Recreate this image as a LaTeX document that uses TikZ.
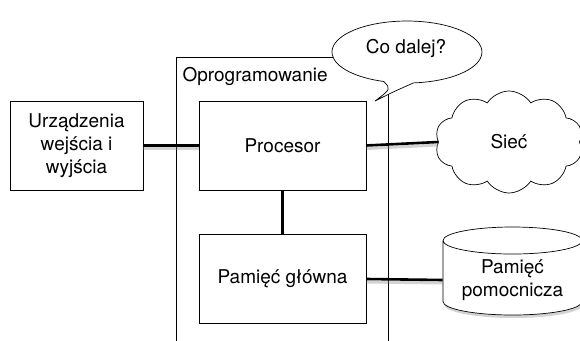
\documentclass[tikz,border=0pt]{standalone}
\usepackage{fontspec}
\setmainfont{TeX Gyre Heros}
\usepackage{tikz}
\usetikzlibrary{shapes.symbols, shapes.geometric, shadows}

\tikzset{
    unit/.style={draw, line width=0.7pt, fill=white, minimum width=167pt, minimum height=89pt, align=center},
    link/.style={line width=2.6pt},
    linkshadow/.style={line width=3pt, gray, opacity=0.35},
}

\begin{document}
\begin{tikzpicture}[x=1pt, y=-1pt, font=\fontsize{19}{23}\selectfont]
    \useasboundingbox (0,0) rectangle (580,340);
    \clip (0,0) rectangle (580,340);

    % Software frame (open at the bottom)
    \draw[line width=0.7pt] (176.5,345) -- (176.5,57) -- (388,57) -- (388,345);
    \node[anchor=west] (soft) at (179,76) {Oprogramowanie};

    % Units
    \node[unit, minimum width=133pt] (io) at (76.5,145.5) {Urządzenia\\wejścia i\\wyjścia};
    \node[unit] (cpu) at (282.5,145.5) {Procesor};
    \node[unit] (mem) at (282.5,279) {Pamięć główna};
    \node[cloud, draw, line width=0.7pt, fill=white, cloud puffs=10, cloud puff arc=115,
          aspect=1.45, minimum width=148pt, minimum height=102pt] (net) at (509,142) {Sieć};
    \node[cylinder, draw, line width=0.7pt, fill=white, shape border rotate=90, aspect=0.25,
          minimum width=139pt, minimum height=88pt, align=center,
          drop shadow={opacity=0.35, shadow xshift=1pt, shadow yshift=-3pt}] (disk) at (512.5,280) {Pamięć\\pomocnicza};

    % Speech bubble
    \filldraw[line width=0.7pt, fill=white] (413.5,82.9)
        arc[start angle=85, end angle=-252, x radius=75, y radius=31]
        .. controls (391,89) .. (375,101)
        .. controls (393,92) .. (413.5,82.9) -- cycle;
    \node (ask) at (406,48) {Co dalej?};

    % Connections (with soft shadows)
    \draw[linkshadow] ([yshift=-3pt]io.east) -- ([yshift=-3pt]cpu.west);
    \draw[linkshadow] ([yshift=-3pt]cpu.east) -- ([yshift=-3pt]net.west);
    \draw[linkshadow] ([yshift=-3pt]mem.east) -- ([yshift=-3pt]disk.west);
    \draw[link] (io.east) -- (cpu.west);
    \draw[link] (cpu.east) -- (net.west);
    \draw[link] (cpu.south) -- (mem.north);
    \draw[link] (mem.east) -- (disk.west);
\end{tikzpicture}
\end{document}
